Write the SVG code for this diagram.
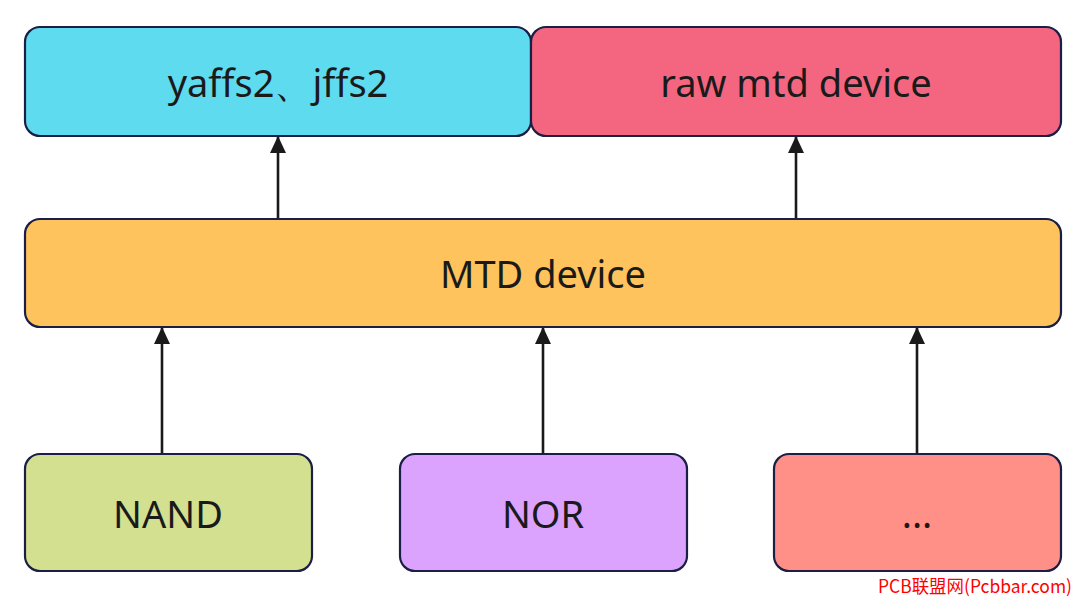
<svg xmlns="http://www.w3.org/2000/svg" width="1080" height="601" viewBox="0 0 1080 601">
<defs>
<style>
.box{stroke:#1c1f45;stroke-width:2.2}
.lbl{font-family:"Noto Sans","Open Sans",sans-serif;font-size:38px;fill:#1a1a1a;text-anchor:middle}
.conn line{stroke:#1a1a1a;stroke-width:2.6}
</style>
<marker id="ah" viewBox="0 0 17 16" refX="16" refY="8" markerWidth="17" markerHeight="16" markerUnits="userSpaceOnUse" orient="auto">
<path d="M0,0 L17,8 L0,16 Z" fill="#1a1a1a"/>
</marker>
</defs>
<rect width="1080" height="601" fill="#ffffff"/>
<g id="yaffs2">
<rect class="box" x="25" y="27" width="506" height="109" rx="15" fill="#5fdbef"/>
<text class="lbl" x="278" y="97">yaffs2、jffs2</text>
</g>
<g id="raw">
<rect class="box" x="531" y="27" width="530" height="109" rx="15" fill="#f4657f"/>
<text class="lbl" x="796" y="97">raw mtd device</text>
</g>
<g id="mtd">
<rect class="box" x="25" y="219" width="1036" height="108" rx="15" fill="#fec35c"/>
<text class="lbl" x="543" y="288">MTD device</text>
</g>
<g id="nand">
<rect class="box" x="25" y="454" width="287" height="117" rx="15" fill="#d3e090"/>
<text class="lbl" x="168" y="528">NAND</text>
</g>
<g id="nor">
<rect class="box" x="400" y="454" width="287" height="117" rx="15" fill="#dba3fd"/>
<text class="lbl" x="543" y="528">NOR</text>
</g>
<g id="etc">
<rect class="box" x="774" y="454" width="287" height="117" rx="15" fill="#ff9088"/>
<text class="lbl" x="917" y="528">...</text>
</g>
<g class="conn" id="connectors">
<line x1="278" y1="218" x2="278" y2="137" marker-end="url(#ah)"/>
<line x1="796" y1="218" x2="796" y2="137" marker-end="url(#ah)"/>
<line x1="162" y1="453" x2="162" y2="328" marker-end="url(#ah)"/>
<line x1="543" y1="453" x2="543" y2="328" marker-end="url(#ah)"/>
<line x1="917" y1="453" x2="917" y2="328" marker-end="url(#ah)"/>
</g>
<text x="878" y="593" font-family="'Noto Sans CJK SC',sans-serif" font-size="18" fill="#ff0000" textLength="194" lengthAdjust="spacingAndGlyphs">PCB联盟网(Pcbbar.com)</text>
</svg>
